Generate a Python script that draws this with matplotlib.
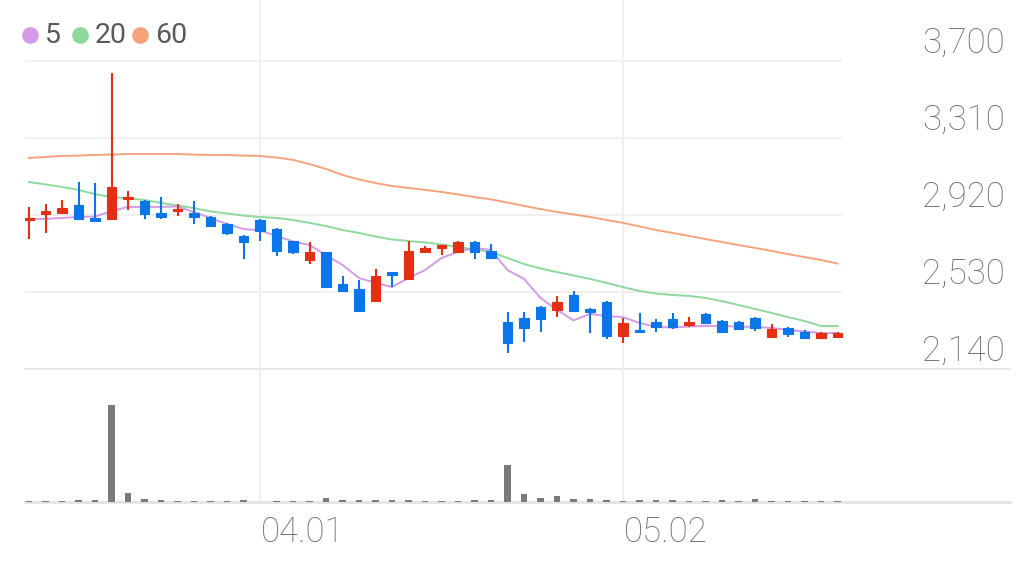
import matplotlib.pyplot as plt
from matplotlib.lines import Line2D
import numpy as np

# daily candles, price in KRW
opens = [2895, 2925, 2930, 2971, 2905, 2900, 3001, 2991, 2930, 2940,
         2930, 2910, 2874, 2814, 2895, 2849, 2788, 2692, 2733, 2571,
         2545, 2484, 2631, 2596, 2733, 2753, 2733, 2783, 2738, 2378,
         2398, 2454, 2439, 2515, 2444, 2479, 2307, 2338, 2378, 2393,
         2363, 2419, 2383, 2378, 2398, 2302, 2348, 2327, 2297, 2302]
highs = [2960, 2976, 2996, 3087, 3082, 3639, 3042, 2995, 3011, 2976,
         2991, 2915, 2878, 2818, 2900, 2852, 2790, 2783, 2735, 2611,
         2591, 2646, 2631, 2788, 2763, 2770, 2788, 2788, 2773, 2429,
         2429, 2458, 2510, 2535, 2449, 2485, 2398, 2424, 2393, 2424,
         2403, 2424, 2388, 2383, 2403, 2368, 2352, 2337, 2327, 2327]
lows = [2798, 2829, 2930, 2900, 2890, 2900, 2945, 2900, 2900, 2915,
        2874, 2860, 2819, 2697, 2788, 2712, 2722, 2672, 2553, 2533,
        2429, 2479, 2555, 2596, 2728, 2717, 2733, 2697, 2700, 2221,
        2277, 2327, 2403, 2434, 2322, 2292, 2272, 2325, 2327, 2343,
        2353, 2368, 2322, 2340, 2332, 2302, 2302, 2297, 2297, 2300]
closes = [2905, 2940, 2955, 2900, 2890, 3062, 3011, 2925, 2910, 2950,
          2910, 2864, 2829, 2783, 2839, 2738, 2733, 2733, 2555, 2535,
          2434, 2611, 2616, 2738, 2753, 2768, 2783, 2733, 2702, 2272,
          2348, 2393, 2479, 2434, 2429, 2307, 2373, 2327, 2353, 2353,
          2378, 2373, 2327, 2343, 2348, 2343, 2317, 2297, 2322, 2322]

# moving averages as drawn (they include days before the window)
ma5 = [2900, 2900, 2905, 2910, 2912, 2940, 2961, 2961, 2961, 2963,
       2935, 2905, 2874, 2849, 2842, 2814, 2786, 2768, 2717, 2667,
       2601, 2576, 2555, 2601, 2641, 2702, 2733, 2753, 2743, 2641,
       2596, 2500, 2439, 2386, 2419, 2408, 2403, 2373, 2353, 2350,
       2355, 2358, 2358, 2355, 2353, 2348, 2338, 2330, 2322, 2322]
ma20 = [3087, 3075, 3062, 3047, 3026, 3011, 3004, 2996, 2981, 2968,
        2955, 2938, 2928, 2917, 2910, 2905, 2895, 2880, 2864, 2844,
        2829, 2811, 2796, 2788, 2781, 2771, 2758, 2745, 2733, 2702,
        2672, 2649, 2631, 2614, 2596, 2576, 2555, 2535, 2522, 2515,
        2510, 2500, 2484, 2464, 2444, 2424, 2403, 2383, 2358, 2358]
ma60 = [3209, 3214, 3219, 3221, 3224, 3226, 3229, 3229, 3229, 3229,
        3226, 3224, 3224, 3221, 3219, 3211, 3199, 3178, 3153, 3123,
        3100, 3082, 3067, 3057, 3047, 3037, 3024, 3011, 2999, 2983,
        2966, 2950, 2935, 2923, 2910, 2895, 2880, 2862, 2844, 2829,
        2814, 2798, 2783, 2768, 2753, 2738, 2722, 2707, 2692, 2674]

volumes = [30, 45, 30, 50, 70, 2910, 270, 100, 50, 40,
           20, 40, 40, 50, 10, 30, 20, 20, 120, 50,
           60, 70, 50, 60, 20, 30, 30, 70, 70, 1110,
           230, 120, 180, 100, 80, 60, 40, 70, 50, 70,
           30, 30, 60, 30, 80, 30, 30, 30, 30, 30]

y_ticks = [2140, 2530, 2920, 3310, 3700]
tick_idx = [14, 36]
tick_labels = ['04.01', '05.02']
ma_labels = ['5', '20', '60']
ma_colors = ['#d59be9', '#8ed99c', '#f6a37c']

UP = '#e42f12'
DOWN = '#0b75ea'
GRID = '#f0f0f0'
TEXT = '#6e6e6e'
FONT = 'Roboto'

W, H = 1025, 566
fig = plt.figure(figsize=(W / 100, H / 100), dpi=100)
ax = fig.add_axes([25 / W, (H - 369) / H, 985 / W, 369 / H])
vax = fig.add_axes([25 / W, (H - 502) / H, 985 / W, 133 / H])

n = len(closes)
x = np.arange(n)
xlim = (-4 / 16.5, 981 / 16.5)
for a in (ax, vax):
    a.set_xlim(xlim)
    a.set_axis_off()
    for t in tick_idx:
        a.axvline(t, color=GRID, lw=1.5, zorder=0)

# price panel
ax.set_ylim(y_ticks[0], y_ticks[0] + (y_ticks[-1] - y_ticks[0]) * 369 / 308)
ax.hlines(y_ticks[1:], xlim[0], n - 0.73, color=GRID, lw=1.5, zorder=0)
ax.axhline(y_ticks[0], color='#e8e8e8', lw=1.5, zorder=0, clip_on=False)
for v in y_ticks:
    ax.annotate(f'{v:,}', xy=(1, v), xycoords=('axes fraction', 'data'),
                xytext=(-5, 8), textcoords='offset pixels', ha='right',
                va='baseline', fontsize=25, color=TEXT, family=FONT,
                fontweight='light')

for vals, c in zip([ma60, ma20, ma5], ma_colors[::-1]):
    ax.plot(x, vals, color=c, lw=1.4, zorder=2)

o = np.array(opens)
c = np.array(closes)
colors = [UP if cc >= oo else DOWN for oo, cc in zip(o, c)]
ax.vlines(x, lows, highs, color=colors, lw=1.5, zorder=3)
ax.bar(x, np.abs(c - o), bottom=np.minimum(o, c), width=0.55,
       color=colors, edgecolor=colors, linewidth=0.8, zorder=4)

# volume panel
vax.set_ylim(0, max(volumes) * 133 / 97)
vax.bar(x, volumes, width=0.4, color='#7a7a7a', zorder=2)
vax.axhline(0, color='#e3e3e3', lw=2, zorder=1, clip_on=False)
for t, lab in zip(tick_idx, tick_labels):
    vax.annotate(lab, xy=(t, 0), xycoords='data', xytext=(1, -40),
                 textcoords='offset pixels', ha='left', va='baseline',
                 fontsize=25, color=TEXT, family=FONT, fontweight='light')

# legend
lx = [30, 80, 140]
for px, lab, col in zip(lx, ma_labels, ma_colors):
    fig.add_artist(Line2D([px / W], [1 - 35 / H], marker='o', markersize=11,
                          color=col, transform=fig.transFigure))
    fig.text((px + 15) / W, 1 - 43 / H, lab, fontsize=20.5, color='#5a5a5a',
             family=FONT, va='baseline', ha='left')

fig.savefig('out.png', dpi=100, facecolor='white')
